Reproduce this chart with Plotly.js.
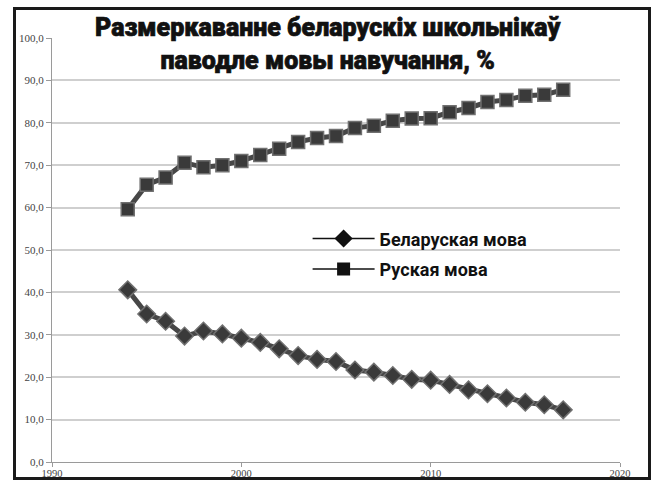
<!DOCTYPE html>
<html>
<head>
<meta charset="utf-8">
<script src="https://cdn.plot.ly/plotly-3.0.1.min.js"></script>
<style>
  html, body { margin: 0; padding: 0; background: #fff; }
  #wrap { position: relative; width: 662px; height: 484px; }
  #chart { width: 662px; height: 484px; }
  #frame { position: absolute; left: 13px; top: 7px; width: 632px; height: 467px;
           border: 3px solid #1a1a1a; pointer-events: none; }
  #chart .gtitle { stroke: #111; stroke-width: 0.7px; }
</style>
</head>
<body>
<div id="wrap">
  <div id="chart"></div>
  <div id="frame"></div>
</div>
<script>
const years = [1994,1995,1996,1997,1998,1999,2000,2001,2002,2003,2004,2005,
               2006,2007,2008,2009,2010,2011,2012,2013,2014,2015,2016,2017];
const belarusian = [40.6,34.9,33.2,29.7,30.9,30.2,29.2,28.2,26.7,25.1,24.2,23.7,
                    21.7,21.2,20.4,19.5,19.3,18.3,17.0,16.1,15.1,14.1,13.5,12.3];
const russian = [59.6,65.4,67.1,70.6,69.5,70.0,71.0,72.4,73.9,75.5,76.4,76.9,
                 78.8,79.3,80.5,81.0,81.1,82.5,83.5,84.9,85.4,86.4,86.6,87.8];
const seriesNames = ['Беларуская мова', 'Руская мова'];
const titleText = 'Размеркаванне беларускіх школьнікаў<br>паводле мовы навучання, %';
const yTicks = [0,10,20,30,40,50,60,70,80,90,100];
const xTicks = [1990,2000,2010,2020];

const dataTraces = [
  { x: years, y: belarusian, type: 'scatter', mode: 'lines+markers', showlegend: false,
    line: { color: '#474747', width: 5 },
    marker: { symbol: 'diamond', size: 13.5, color: '#3a3a3a', line: { color: '#707070', width: 1.5 } } },
  { x: years, y: russian, type: 'scatter', mode: 'lines+markers', showlegend: false,
    line: { color: '#474747', width: 5 },
    marker: { symbol: 'square', size: 13, color: '#3a3a3a', line: { color: '#707070', width: 1.5 } } }
];
const legendTraces = [
  { x: [null], y: [null], type: 'scatter', mode: 'lines+markers', name: seriesNames[0], legendgroup: 'a',
    line: { color: '#111', width: 1.5 }, marker: { symbol: 'diamond', size: 14, color: '#111' } },
  { x: [null], y: [null], type: 'scatter', mode: 'lines+markers', name: seriesNames[1], legendgroup: 'b',
    line: { color: '#111', width: 1.5 }, marker: { symbol: 'square', size: 13, color: '#111' } }
];

const layout = {
  width: 662, height: 484,
  margin: { l: 52, r: 42, t: 38, b: 22 },
  paper_bgcolor: '#fff', plot_bgcolor: '#fff',
  separators: ', ',
  title: {
    text: titleText,
    font: { family: 'Roboto, "Noto Sans", sans-serif', size: 25, weight: 900, color: '#111' },
    x: 0.495, xanchor: 'center', xref: 'container',
    y: 0.925, yanchor: 'top', yref: 'container'
  },
  xaxis: {
    range: [1990, 2020], tickvals: xTicks, showgrid: false, zeroline: false,
    showline: true, linecolor: '#9a9a9a', linewidth: 1,
    ticks: 'outside', ticklen: 4, tickcolor: '#9a9a9a', ticklabelstandoff: -3,
    tickfont: { family: '"Liberation Serif", "DejaVu Serif", serif', size: 10.5, color: '#444' }
  },
  yaxis: {
    range: [0, 100], tickvals: yTicks, tickformat: '.1f', zeroline: false,
    showgrid: true, gridcolor: '#cfcfcf', gridwidth: 2,
    showline: true, linecolor: '#9a9a9a', linewidth: 1,
    ticks: 'outside', ticklen: 5, tickcolor: '#9a9a9a',
    tickfont: { family: '"Liberation Serif", "DejaVu Serif", serif', size: 11, color: '#444' }
  },
  legend: {
    x: 0.45, xanchor: 'left', y: 0.57, yanchor: 'top',
    bgcolor: 'rgba(255,255,255,0)', borderwidth: 0,
    font: { family: 'Roboto, "Noto Sans", sans-serif', size: 18, weight: 700, color: '#111' },
    itemwidth: 62, tracegroupgap: 4
  }
};

Plotly.newPlot('chart', dataTraces.concat(legendTraces), layout, { displayModeBar: false, staticPlot: true });
</script>
</body>
</html>
